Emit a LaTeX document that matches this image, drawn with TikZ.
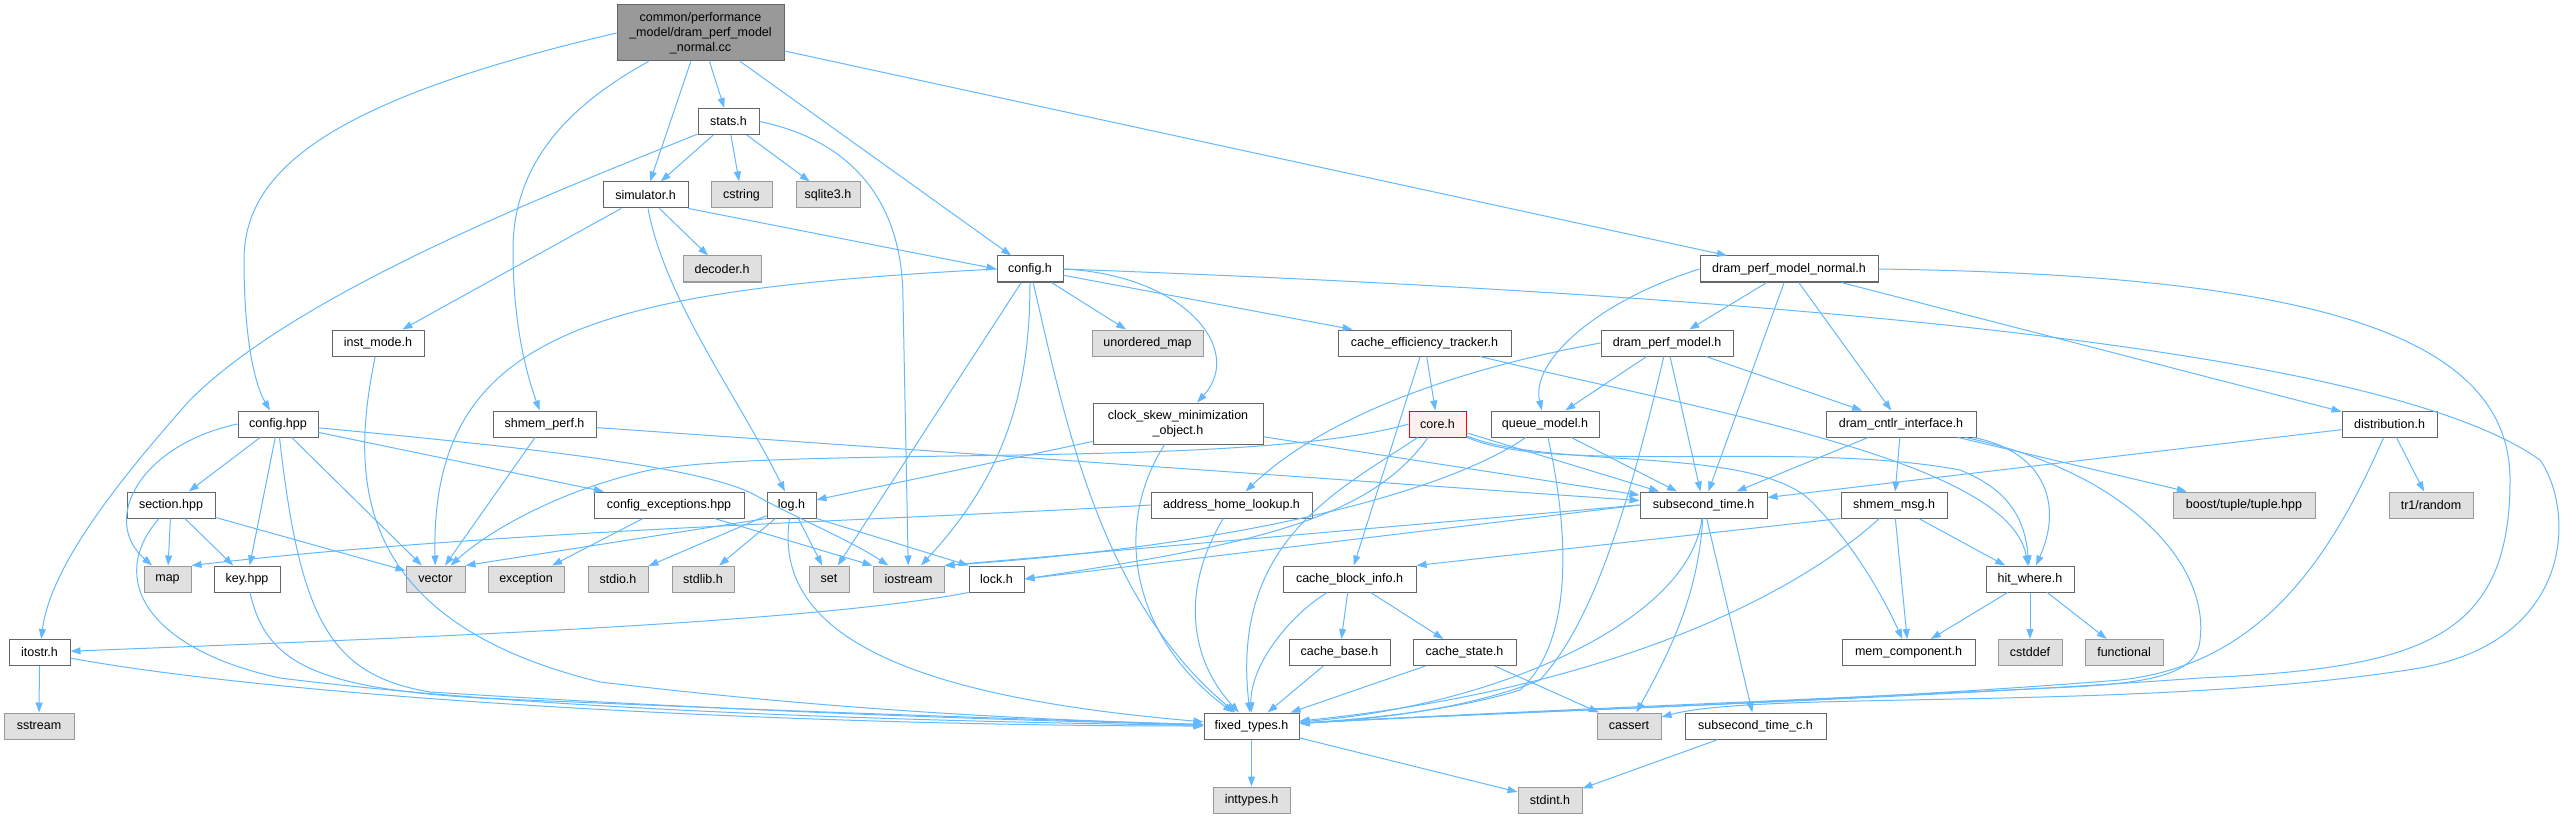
\documentclass[tikz,border=0pt]{standalone}
\usepackage{fontspec}
\setmainfont{Liberation Sans}
\usepackage{tikz}
\usetikzlibrary{arrows.meta}
\definecolor{edgeblue}{HTML}{63B8FF}
\definecolor{boxline}{HTML}{666666}
\definecolor{sysline}{HTML}{999999}
\definecolor{sysfill}{HTML}{E0E0E0}
\definecolor{rootfill}{HTML}{999999}
\definecolor{truncfill}{HTML}{FFF0F0}

\begin{document}
\begin{tikzpicture}[
            x=1pt, y=-1pt,
            file/.style={draw=boxline, fill=white, line width=1pt, minimum height=26pt,
                inner sep=0pt, font=\fontsize{12.5}{15}\selectfont},
            sysfile/.style={file, draw=sysline, fill=sysfill},
            dep/.style={draw=edgeblue, line width=1pt, -{Triangle[length=10pt,width=7pt]}}
        ]

        \useasboundingbox (0,0) rectangle (2566,818);

        \node[file, fill=rootfill, minimum width=167pt, minimum height=56pt, align=center] (root) at (700.5,33)
            {common/performance\\\_model/dram\_perf\_model\\\_normal.cc};

        \node[file, minimum width=61pt] (stats) at (728.5,121.5) {stats.h};
        \node[file, minimum width=85pt] (simulator) at (645.5,195) {simulator.h};
        \node[sysfile, minimum width=61pt] (cstring) at (741.5,195) {cstring};
        \node[sysfile, minimum width=64pt] (sqlite) at (828,195) {sqlite3.h};
        \node[sysfile, minimum width=78pt] (decoder) at (722,269) {decoder.h};
        \node[file, minimum width=66pt] (config) at (1030,269) {config.h};
        \node[file, minimum width=178pt] (dpmnormal) at (1789,269) {dram\_perf\_model\_normal.h};
        \node[file, minimum width=92pt] (instmode) at (378,343) {inst\_mode.h};
        \node[sysfile, minimum width=111pt] (umap) at (1147.5,343) {unordered\_map};
        \node[file, minimum width=173pt] (cachetrk) at (1424.5,343) {cache\_efficiency\_tracker.h};
        \node[file, minimum width=132pt] (dpm) at (1667,343) {dram\_perf\_model.h};

        \node[file, minimum width=80pt] (confighpp) at (278,424) {config.hpp};
        \node[file, minimum width=103pt] (shmemperf) at (544.5,424) {shmem\_perf.h};
        \node[file, minimum width=170pt, minimum height=41pt, align=center] (clockskew) at (1178,423.5)
            {clock\_skew\_minimization\\\_object.h};
        \node[file, draw=red, fill=truncfill, minimum width=57pt] (core) at (1437.5,424) {core.h};
        \node[file, minimum width=108pt] (queuemodel) at (1545,424) {queue\_model.h};
        \node[file, minimum width=150pt] (dramcntlr) at (1901,424) {dram\_cntlr\_interface.h};
        \node[file, minimum width=95pt] (distrib) at (2389.5,424) {distribution.h};

        \node[file, minimum width=88pt] (section) at (171,505) {section.hpp};
        \node[file, minimum width=150pt] (cfgexc) at (669,505) {config\_exceptions.hpp};
        \node[file, minimum width=49pt] (log) at (791.5,505) {log.h};
        \node[file, minimum width=161pt] (addrhome) at (1231.5,505) {address\_home\_lookup.h};
        \node[file, minimum width=127pt] (subsec) at (1703.5,505) {subsecond\_time.h};
        \node[file, minimum width=106pt] (shmemmsg) at (1894,505) {shmem\_msg.h};
        \node[sysfile, minimum width=142pt] (boosttuple) at (2244,505) {boost/tuple/tuple.hpp};
        \node[sysfile, minimum width=84pt] (trrandom) at (2431,505) {tr1/random};

        \node[sysfile, minimum width=47pt] (map) at (167.5,579) {map};
        \node[file, minimum width=66pt] (keyhpp) at (247,579) {key.hpp};
        \node[sysfile, minimum width=59pt] (vector) at (435.5,579) {vector};
        \node[sysfile, minimum width=76pt] (exception) at (526,579) {exception};
        \node[sysfile, minimum width=60pt] (stdio) at (618,579) {stdio.h};
        \node[sysfile, minimum width=62pt] (stdlib) at (703,579) {stdlib.h};
        \node[sysfile, minimum width=40pt] (set) at (829,579) {set};
        \node[sysfile, minimum width=71pt] (iostream) at (908.5,579) {iostream};
        \node[file, minimum width=55pt] (lock) at (996.5,579) {lock.h};
        \node[file, minimum width=133pt] (cacheblk) at (1349.5,579) {cache\_block\_info.h};
        \node[file, minimum width=88pt] (hitwhere) at (2030,579) {hit\_where.h};

        \node[file, minimum width=61pt] (itostr) at (39.5,652.5) {itostr.h};
        \node[file, minimum width=101pt] (cachebase) at (1339.5,652.5) {cache\_base.h};
        \node[file, minimum width=103pt] (cachestate) at (1464.5,652.5) {cache\_state.h};
        \node[file, minimum width=133pt] (memcomp) at (1908.5,652.5) {mem\_component.h};
        \node[sysfile, minimum width=64pt] (cstddef) at (2030,652.5) {cstddef};
        \node[sysfile, minimum width=78pt] (functional) at (2124,652.5) {functional};

        \node[sysfile, minimum width=70pt] (sstream) at (39,726) {sstream};
        \node[file, minimum width=95pt] (fixedtypes) at (1251.5,726) {fixed\_types.h};
        \node[sysfile, minimum width=64pt] (cassert) at (1629,726) {cassert};
        \node[file, minimum width=141pt] (subsecc) at (1755.5,726) {subsecond\_time\_c.h};

        \node[sysfile, minimum width=77pt] (inttypes) at (1251.5,800) {inttypes.h};
        \node[sysfile, minimum width=64pt] (stdint) at (1550,800) {stdint.h};

        \draw[dep] (root.west) .. controls (330,100) and (244,170) .. (244,260) .. controls (244,340) and (255,385) .. (confighpp);
        \draw[dep] (root) .. controls (560,110) and (513,170) .. (513,250) .. controls (513,320) and (525,370) .. (shmemperf);
        \draw[dep] (root) -- (simulator);
        \draw[dep] (root) -- (stats);
        \draw[dep] (root) -- (config);
        \draw[dep] (root) -- (dpmnormal);

        \draw[dep] (stats) -- (simulator);
        \draw[dep] (stats) -- (cstring);
        \draw[dep] (stats) -- (sqlite);
        \draw[dep] (stats.east) .. controls (850,140) and (903,200) .. (903,300) -- (iostream);
        \draw[dep] (stats) .. controls (560,190) and (300,290) .. (190,400) .. controls (110,490) and (50,570) .. (itostr);

        \draw[dep] (simulator) -- (instmode);
        \draw[dep] (simulator) -- (decoder);
        \draw[dep] (simulator.south east) -- (config.west);
        \draw[dep] (simulator) .. controls (665,300) and (740,400) .. (log);

        \draw[dep] (instmode) .. controls (352,470) and (345,620) .. (600,682) .. controls (850,712) and (1050,720) .. (fixedtypes);

        \draw[dep] (confighpp) -- (section);
        \draw[dep] (confighpp.west) .. controls (140,445) and (100,520) .. (map);
        \draw[dep] (confighpp) -- (keyhpp);
        \draw[dep] (confighpp) -- (vector);
        \draw[dep] (confighpp) .. controls (300,620) and (330,675) .. (430,692) .. controls (750,712) and (1000,720) .. (fixedtypes);
        \draw[dep] (confighpp) -- (cfgexc);
        \draw[dep] (confighpp) .. controls (500,445) and (700,465) .. (755,495) .. controls (790,515) and (850,540) .. (iostream);

        \draw[dep] (section) -- (map);
        \draw[dep] (section) -- (keyhpp);
        \draw[dep] (section) -- (vector);
        \draw[dep] (section) .. controls (105,580) and (150,650) .. (280,678) .. controls (550,712) and (950,722) .. (fixedtypes);

        \draw[dep] (keyhpp) .. controls (265,660) and (310,688) .. (480,698) .. controls (800,712) and (1050,720) .. (fixedtypes);

        \draw[dep] (itostr) -- (sstream);
        \draw[dep] (itostr) .. controls (300,700) and (800,726) .. (fixedtypes);

        \draw[dep] (cfgexc) -- (exception);
        \draw[dep] (cfgexc) -- (iostream.north west);

        \draw[dep] (shmemperf) -- (vector);
        \draw[dep] (shmemperf) -- (subsec);

        \draw[dep] (log.south west) -- (vector.north east);
        \draw[dep] (log) -- (stdio);
        \draw[dep] (log) -- (stdlib);
        \draw[dep] (log) -- (set);
        \draw[dep] (log.south east) -- (lock.north west);
        \draw[dep] (log) .. controls (770,650) and (950,700) .. (fixedtypes);

        \draw[dep] (clockskew) -- (log);
        \draw[dep] (clockskew) -- (subsec);
        \draw[dep] (clockskew) .. controls (1110,530) and (1135,640) .. (fixedtypes);

        \draw[dep] (config) -- (umap);
        \draw[dep] (config) -- (cachetrk);
        \draw[dep] (config.east) .. controls (1185,275) and (1245,350) .. (clockskew);
        \draw[dep] (config.west) .. controls (600,290) and (430,330) .. (vector);
        \draw[dep] (config) -- (set);
        \draw[dep] (config) .. controls (1030,400) and (1000,480) .. (iostream);
        \draw[dep] (config) .. controls (1065,420) and (1100,600) .. (fixedtypes);
        \draw[dep] (config.east) .. controls (1900,300) and (2400,360) .. (2540,460)
            .. controls (2575,510) and (2575,640) .. (2420,668) .. controls (2150,712) and (1760,690) .. (cassert);

        \draw[dep] (dpmnormal) -- (dpm);
        \draw[dep] (dpmnormal.west) .. controls (1600,300) and (1530,360) .. (queuemodel);
        \draw[dep] (dpmnormal) -- (subsec);
        \draw[dep] (dpmnormal) -- (dramcntlr);
        \draw[dep] (dpmnormal) -- (distrib);
        \draw[dep] (dpmnormal.east) .. controls (2300,275) and (2510,330) .. (2510,480)
            .. controls (2510,640) and (2420,668) .. (2200,678) .. controls (1900,700) and (1500,712) .. (fixedtypes);

        \draw[dep] (dpm) -- (queuemodel);
        \draw[dep] (dpm) -- (subsec);
        \draw[dep] (dpm) -- (dramcntlr);
        \draw[dep] (dpm) .. controls (1630,500) and (1595,620) .. (1540,680) .. controls (1460,712) and (1360,720) .. (fixedtypes);
        \draw[dep] (dpm.west) .. controls (1450,370) and (1320,420) .. (addrhome);

        \draw[dep] (queuemodel) -- (subsec);
        \draw[dep] (queuemodel) .. controls (1575,560) and (1565,650) .. (1520,690) .. controls (1450,712) and (1350,720) .. (fixedtypes);
        \draw[dep] (queuemodel) .. controls (1450,490) and (1250,545) .. (iostream.north east);

        \draw[dep] (core.west) .. controls (1250,470) and (800,445) .. (650,470) .. controls (560,490) and (490,530) .. (vector);
        \draw[dep] (core) .. controls (1370,520) and (1250,545) .. (lock.east);
        \draw[dep] (core) .. controls (1340,490) and (1230,540) .. (fixedtypes);
        \draw[dep] (core) -- (subsec);
        \draw[dep] (core) .. controls (1550,475) and (1800,440) .. (1960,470) .. controls (2010,490) and (2025,520) .. (hitwhere);
        \draw[dep] (core) .. controls (1550,470) and (1750,445) .. (1810,500) .. controls (1850,540) and (1880,590) .. (memcomp);

        \draw[dep] (cachetrk) -- (core);
        \draw[dep] (cachetrk) -- (cacheblk);
        \draw[dep] (cachetrk) .. controls (1700,410) and (2010,460) .. (hitwhere);

        \draw[dep] (addrhome.west) .. controls (900,520) and (500,530) .. (map.north east);
        \draw[dep] (addrhome) .. controls (1180,590) and (1190,660) .. (fixedtypes);

        \draw[dep] (subsec.west) -- (iostream.north east);
        \draw[dep] (subsec.west) -- (lock.east);
        \draw[dep] (subsec) .. controls (1690,620) and (1500,705) .. (fixedtypes);
        \draw[dep] (subsec) .. controls (1698,600) and (1665,660) .. (cassert);
        \draw[dep] (subsec) -- (subsecc);

        \draw[dep] (distrib) -- (subsec);
        \draw[dep] (distrib) -- (trrandom);
        \draw[dep] (distrib) .. controls (2330,560) and (2260,665) .. (2120,680) .. controls (1850,702) and (1500,712) .. (fixedtypes);

        \draw[dep] (dramcntlr) -- (subsec);
        \draw[dep] (dramcntlr) -- (shmemmsg);
        \draw[dep] (dramcntlr) -- (boosttuple);
        \draw[dep] (dramcntlr) .. controls (2040,450) and (2065,500) .. (hitwhere);
        \draw[dep] (dramcntlr) .. controls (2120,470) and (2210,560) .. (2200,640)
            .. controls (2197,675) and (2150,684) .. (2050,688) .. controls (1800,700) and (1500,712) .. (fixedtypes);

        \draw[dep] (shmemmsg) -- (hitwhere);
        \draw[dep] (shmemmsg) -- (memcomp);
        \draw[dep] (shmemmsg) .. controls (1790,600) and (1600,690) .. (fixedtypes);
        \draw[dep] (shmemmsg.south west) -- (cacheblk.north east);

        \draw[dep] (hitwhere) -- (memcomp);
        \draw[dep] (hitwhere) -- (cstddef);
        \draw[dep] (hitwhere) -- (functional);

        \draw[dep] (cacheblk) -- (cachebase);
        \draw[dep] (cacheblk) -- (cachestate);
        \draw[dep] (cacheblk) .. controls (1290,615) and (1250,665) .. (fixedtypes);

        \draw[dep] (cachebase) -- (fixedtypes);
        \draw[dep] (cachestate) -- (fixedtypes);
        \draw[dep] (cachestate) -- (cassert);

        \draw[dep] (lock.south west) .. controls (800,625) and (350,640) .. (itostr);

        \draw[dep] (fixedtypes) -- (inttypes);
        \draw[dep] (fixedtypes) -- (stdint);
        \draw[dep] (subsecc) -- (stdint);

    \end{tikzpicture}
\end{document}
